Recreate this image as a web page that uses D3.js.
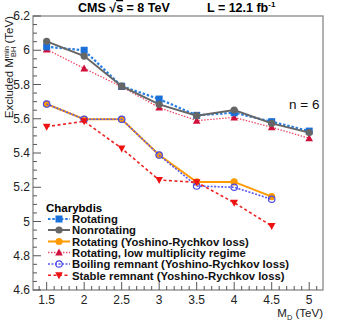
<!DOCTYPE html>
<html>
<head>
<meta charset="utf-8">
<script src="https://cdn.jsdelivr.net/npm/d3@7"></script>
<style>
  body { margin: 0; background: #fff; }
  text { font-family: "Liberation Sans", Arial, sans-serif; }
</style>
</head>
<body>
<div id="chart"></div>
<script>
// x values (M_D in TeV)
const md = [1.5, 2, 2.5, 3, 3.5, 4, 4.5, 5];

// excluded M_BH^min (TeV)
const rotating = [6.02, 6.00, 5.79, 5.715, 5.62, 5.635, 5.583, 5.528];
const nonrotating = [6.052, 5.966, 5.79, 5.684, 5.618, 5.651, 5.573, 5.519];
const rotatingYR = [5.686, 5.597, 5.597, 5.388, 5.231, 5.231, 5.145];
const lowMultiplicity = [6.005, 5.894, 5.787, 5.665, 5.589, 5.608, 5.55, 5.486];
const boilingRemnant = [5.686, 5.597, 5.597, 5.388, 5.207, 5.2, 5.13];
const stableRemnant = [5.554, 5.585, 5.427, 5.242, 5.229, 5.11, 4.974];

const seriesNames = [
  "Rotating",
  "Nonrotating",
  "Rotating (Yoshino-Rychkov loss)",
  "Rotating, low multiplicity regime",
  "Boiling remnant (Yoshino-Rychkov loss)",
  "Stable remnant (Yoshino-Rychkov loss)"
];

const xTicks = [1.5, 2, 2.5, 3, 3.5, 4, 4.5, 5];
const yTicks = [4.6, 4.8, 5, 5.2, 5.4, 5.6, 5.8, 6, 6.2];

const width = 341, height = 324;
const mLeft = 33, mRight = 323, mTop = 16, mBottom = 290;

const svg = d3.select("#chart")
  .append("svg")
  .attr("width", width)
  .attr("height", height);

const x = d3.scaleLinear().domain([1.318, 5.184]).range([mLeft, mRight]);
const y = d3.scaleLinear().domain([4.6, 6.2]).range([mBottom, mTop]);

// styles per series (drawing order: back to front)
const styles = [
  { vals: rotatingYR, color: "#ff9900", lineColor: "#ff9900", dash: null, lw: 2, marker: "circle", fill: "#ff9900" },
  { vals: boilingRemnant, color: "#4a4ae8", lineColor: "#5a5af0", dash: "2,1.5", lw: 1.6, marker: "circle", fill: "none" },
  { vals: stableRemnant, color: "#ee1111", lineColor: "#ee2222", dash: "3,2.5", lw: 1.6, marker: "triangleDown", fill: "#ee1111" },
  { vals: lowMultiplicity, color: "#d0103a", lineColor: "#ee4a6a", dash: "1.5,1.5", lw: 1.3, marker: "triangle", fill: "#d0103a" },
  { vals: rotating, color: "#1a70d8", lineColor: "#2a7ee0", dash: "2.5,1.8", lw: 2.2, marker: "square", fill: "#1a70d8" },
  { vals: nonrotating, color: "#666666", lineColor: "#666666", dash: null, lw: 2, marker: "circle", fill: "#666666" }
];
const legendOrder = [4, 5, 0, 3, 1, 2];

function drawMarker(g, type, cx, cy, s) {
  if (type === "square") {
    g.append("rect").attr("x", cx - 3.5).attr("y", cy - 3.5).attr("width", 7).attr("height", 7)
      .attr("fill", s.fill);
  } else if (type === "circle") {
    g.append("circle").attr("cx", cx).attr("cy", cy).attr("r", s.fill === "none" ? 3.2 : 3.6)
      .attr("fill", s.fill === "none" ? "none" : s.fill)
      .attr("stroke", s.color).attr("stroke-width", s.fill === "none" ? 1.2 : 0);
  } else if (type === "triangle") {
    g.append("path").attr("d", `M${cx},${cy - 4}L${cx + 3.8},${cy + 3}L${cx - 3.8},${cy + 3}Z`).attr("fill", s.fill);
  } else if (type === "triangleDown") {
    g.append("path").attr("d", `M${cx},${cy + 4}L${cx + 3.8},${cy - 3}L${cx - 3.8},${cy - 3}Z`).attr("fill", s.fill);
  }
}

const line = d3.line().x(d => x(d[0])).y(d => y(d[1]));

styles.forEach(s => {
  const pts = s.vals.map((v, i) => [md[i], v]);
  svg.append("path")
    .attr("d", line(pts))
    .attr("fill", "none")
    .attr("stroke", s.lineColor)
    .attr("stroke-width", s.lw)
    .attr("stroke-dasharray", s.dash);
  const g = svg.append("g");
  pts.forEach(p => drawMarker(g, s.marker, x(p[0]), y(p[1]), s));
});

// frame
svg.append("rect")
  .attr("x", mLeft).attr("y", mTop)
  .attr("width", mRight - mLeft).attr("height", mBottom - mTop)
  .attr("fill", "none").attr("stroke", "#888").attr("stroke-width", 1.3);

// x ticks (pointing up)
const xMinor = d3.range(1.4, 5.15, 0.1);
svg.append("g").selectAll("line").data(xMinor).join("line")
  .attr("x1", d => x(d)).attr("x2", d => x(d))
  .attr("y1", mBottom).attr("y2", d => Math.abs(d * 2 - Math.round(d * 2)) < 1e-6 ? mBottom - 8 : mBottom - 4)
  .attr("stroke", "#555").attr("stroke-width", 1);
svg.append("g").selectAll("text").data(xTicks).join("text")
  .attr("x", d => x(d)).attr("y", mBottom + 14)
  .attr("text-anchor", "middle").attr("font-size", 12).attr("fill", "#222")
  .text(d => d);

// y ticks (pointing right)
const yMinor = d3.range(4.6, 6.201, 0.05);
svg.append("g").selectAll("line").data(yMinor).join("line")
  .attr("y1", d => y(d)).attr("y2", d => y(d))
  .attr("x1", mLeft).attr("x2", d => Math.abs(d * 5 - Math.round(d * 5)) < 1e-6 ? mLeft + 8 : mLeft + 4)
  .attr("stroke", "#555").attr("stroke-width", 1);
svg.append("g").selectAll("text").data(yTicks).join("text")
  .attr("x", mLeft - 3).attr("y", d => y(d) + 4)
  .attr("text-anchor", "end").attr("font-size", 12).attr("fill", "#222")
  .text(d => d);

// title
svg.append("text").attr("x", 78).attr("y", 12).attr("font-size", 12.5).attr("font-weight", "bold")
  .html("CMS &#x221A;<tspan text-decoration='overline'>s</tspan> = 8 TeV");
svg.append("text").attr("x", 207).attr("y", 12).attr("font-size", 12.5).attr("font-weight", "bold")
  .html("L = 12.1 fb<tspan dy='-5' font-size='8'>-1</tspan>");

// axis titles
svg.append("text")
  .attr("transform", `translate(13,${mTop}) rotate(-90)`)
  .attr("text-anchor", "end").attr("font-size", 11.5).attr("fill", "#222")
  .html("Excluded M<tspan dy='-4' font-size='7.5'>min</tspan><tspan dx='-11' dy='7' font-size='7.5'>BH</tspan><tspan dy='-3'> (TeV)</tspan>");
svg.append("text")
  .attr("x", mRight).attr("y", 317)
  .attr("text-anchor", "end").attr("font-size", 11.5).attr("fill", "#222")
  .html("M<tspan dy='3' font-size='7.5'>D</tspan><tspan dy='-3'> (TeV)</tspan>");

svg.append("text").attr("x", 289).attr("y", 109).attr("font-size", 13.5).attr("fill", "#111").text("n = 6");

// legend
svg.append("text").attr("x", 46).attr("y", 212).attr("font-size", 11.5).attr("font-weight", "bold").text("Charybdis");
const legendY = [219, 230, 241.5, 252.5, 264, 275.3];
legendOrder.forEach((si, i) => {
  const s = styles[si];
  const yy = legendY[i];
  const g = svg.append("g");
  g.append("line").attr("x1", 48).attr("x2", 70).attr("y1", yy).attr("y2", yy)
    .attr("stroke", s.lineColor).attr("stroke-width", s.lw).attr("stroke-dasharray", s.dash);
  drawMarker(g, s.marker, 59, yy, s);
  g.append("text").attr("x", 72).attr("y", yy + 4.2).attr("font-size", 11.3).attr("font-weight", "bold")
    .attr("fill", "#111").text(seriesNames[i]);
});
</script>
</body>
</html>
